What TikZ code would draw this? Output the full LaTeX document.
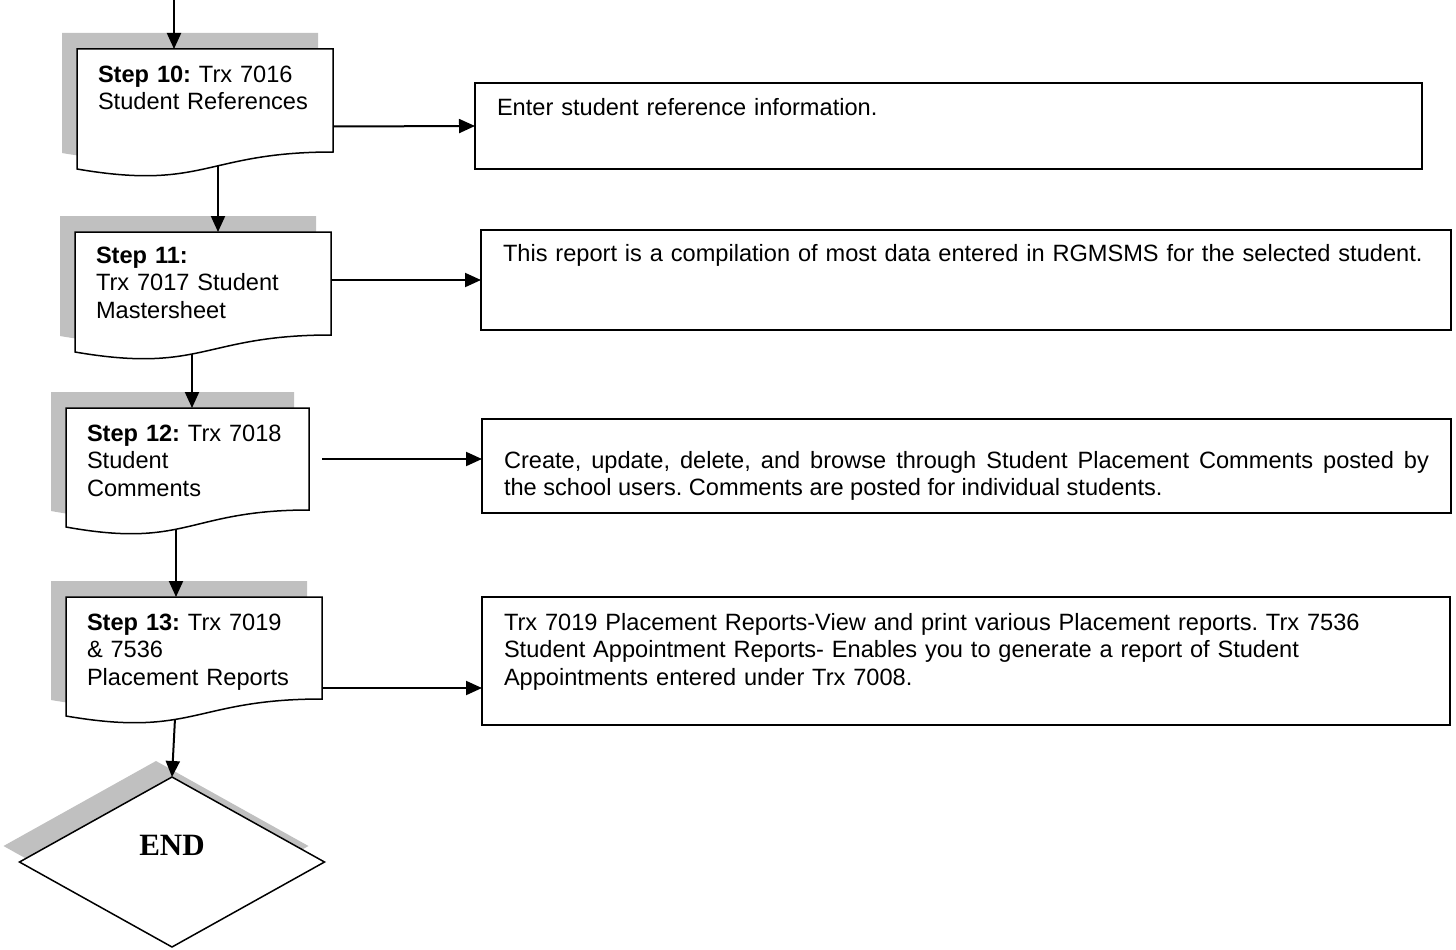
\documentclass[tikz,border=0pt]{standalone}
\usepackage{fontspec}
\setmainfont{Liberation Sans}
\newfontfamily\endfont{Liberation Serif}
\usetikzlibrary{arrows.meta,calc,shapes.geometric}
\definecolor{shadegray}{RGB}{192,192,192}
\frenchspacing
\hyphenpenalty=10000
\pgfdeclarelayer{shade}
\pgfdeclarelayer{links}
\pgfdeclarelayer{boxes}
\pgfsetlayers{shade,links,boxes,main}
% document shape with its grey shadow, drawn round a step node
\newcommand{\docbox}[1]{%
  \begin{pgfonlayer}{shade}
    \fill[shadegray,transform canvas={shift={(-15,-16)}}] (#1.north west) -- (#1.north east) -- (#1.south east)
      .. controls (#1.south) and ($(#1.south)+(0,39)$) .. ($(#1.south west)+(0,17)$) -- cycle;
  \end{pgfonlayer}
  \begin{pgfonlayer}{boxes}
    \filldraw[fill=white,line width=1.5pt] (#1.north west) -- (#1.north east) -- (#1.south east)
      .. controls (#1.south) and ($(#1.south)+(0,39)$) .. ($(#1.south west)+(0,17)$) -- cycle;
  \end{pgfonlayer}}

\begin{document}
\begin{tikzpicture}[x=1pt,y=-1pt,font=\fontsize{23.6pt}{27.6pt}\selectfont,
    arr/.style={-{Triangle[length=16pt,width=14pt]},line width=2pt},
    stepbox/.style={anchor=north west,align=left,text width=214pt,inner xsep=21pt,inner ysep=0pt,
      outer sep=0pt,text height=33pt,text depth=70pt},
    notebox/.style={draw,line width=1.5pt,anchor=north west,align=left,inner xsep=22pt,inner ysep=0pt,
      outer sep=0pt}]
  \useasboundingbox (0,0) rectangle (1456,950);

  % steps
  \node[stepbox] (step10) at (77,49) {\textbf{Step 10:} Trx 7016\\Student References};
  \node[stepbox,text height=31pt,text depth=72pt] (step11) at (75,232) {\textbf{Step 11:}\\Trx 7017 Student\\Mastersheet};
  \node[stepbox,text width=201pt,text depth=69pt] (step12) at (66,408) {\textbf{Step 12:} Trx 7018\\Student\\Comments};
  \node[stepbox,text depth=69pt] (step13) at (66,597) {\textbf{Step 13:} Trx 7019\\\& 7536\\Placement Reports};
  \docbox{step10}
  \docbox{step11}
  \docbox{step12}
  \docbox{step13}

  \node[diamond,draw,fill=white,line width=1.5pt,inner sep=0pt,outer sep=0pt,minimum width=305pt,
    minimum height=170pt,text height=21pt,text depth=35pt,font=\endfont\bfseries\fontsize{31pt}{31pt}\selectfont]
    (finish) at (172,862) {END};
  \begin{pgfonlayer}{shade}
    \fill[shadegray,transform canvas={shift={(-16,-16)}}] (finish.north) -- (finish.east) -- (finish.south) -- (finish.west) -- cycle;
  \end{pgfonlayer}

  % notes
  \node[notebox,text width=903pt,text height=32pt,text depth=54pt] (note10) at (475,83)
    {Enter student reference information.};
  \node[notebox,text width=926pt,text height=31pt,text depth=69pt] (note11) at (481,230)
    {This report is a compilation of most data entered in RGMSMS for the selected student.};
  \node[notebox,align=justify,text width=925pt,text height=49pt,text depth=45pt] (note12) at (482,419)
    {Create, update, delete, and browse through Student Placement Comments posted by\linebreak
     the school users. Comments are posted for individual students.};
  \node[notebox,text width=924pt,text height=33pt,text depth=95pt] (note13) at (482,597)
    {Trx 7019 Placement Reports-View and print various Placement reports. Trx 7536\\
     Student Appointment Reports- Enables you to generate a report of Student\\
     Appointments entered under Trx 7008.};

  \begin{pgfonlayer}{links}
    \coordinate (entry) at (174,0);
    \draw[arr] (entry) -- (entry |- step10.north);
    \draw[arr] ($(step10.south)+(13,0)$) -- ($(step10.south |- step11.north)+(13,0)$);
    \draw[arr] ($(step11.south)+(-11,0)$) -- ($(step11.south |- step12.north)+(-11,0)$);
    \draw[arr] ($(step12.south)+(-11.5,0)$) -- ($(step12.south |- step13.north)+(-11.5,0)$);
    \draw[arr] ($(step13.south)+(-18,0)$) -- (finish.north);

    \draw[arr] ($(step10.east)+(0,26)$) -- (note10.west);
    \draw[arr] (step11.east |- note11.west) -- (note11.west);
    \draw[arr] ($(step12.east)+(13,0)$) -- (note12.west |- step12.east);
    \draw[arr] ($(step13.east)+(0,40)$) -- ($(note13.west |- step13.east)+(0,40)$);
  \end{pgfonlayer}
\end{tikzpicture}
\end{document}
